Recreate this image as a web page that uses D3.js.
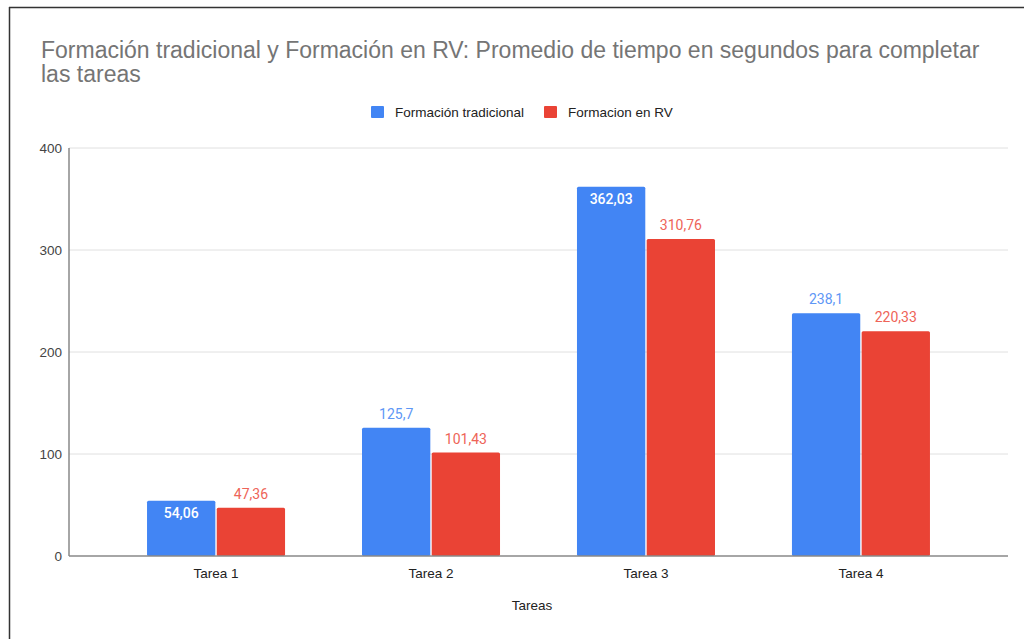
<!DOCTYPE html>
<html>
<head>
<meta charset="utf-8">
<script src="https://cdn.jsdelivr.net/npm/d3@7"></script>
<style>
  body { margin: 0; background: #fff; }
  svg { display: block; font-family: "Liberation Sans", Arial, sans-serif; }
</style>
</head>
<body>
<div id="chart"></div>
<script>
const categories = ['Tarea 1', 'Tarea 2', 'Tarea 3', 'Tarea 4'];
const seriesNames = ['Formación tradicional', 'Formacion en RV'];
const tradicional = [54.06, 125.7, 362.03, 238.1];
const rv = [47.36, 101.43, 310.76, 220.33];
const yTicks = [0, 100, 200, 300, 400];

const colors = ['#4285f4', '#ea4335'];
const labelColors = ['#5e97f6', '#ee6458'];
// labels Google drew inside the bar (series index, category index)
const insideLabels = ['0-0', '0-2'];

const width = 1024;
const height = 639;
const margin = { top: 148, right: 16, bottom: 83, left: 69 };

const svg = d3.select('#chart')
  .append('svg')
  .attr('width', width)
  .attr('height', height);

// frame edges seen in the screenshot
svg.append('line')
  .attr('x1', 9).attr('x2', width).attr('y1', 7.5).attr('y2', 7.5)
  .style('stroke', '#333').style('stroke-width', 1.5);
svg.append('line')
  .attr('x1', 9.5).attr('x2', 9.5).attr('y1', 7).attr('y2', height)
  .style('stroke', '#333').style('stroke-width', 1.5);

const x = d3.scaleBand()
  .domain(categories)
  .range([margin.left, width - margin.right])
  .paddingInner(0.358)
  .paddingOuter(0.363);

const xs = d3.scaleBand()
  .domain(d3.range(seriesNames.length))
  .range([0, x.bandwidth()])
  .paddingInner(0.02);

const y = d3.scaleLinear()
  .domain([0, 400])
  .range([height - margin.bottom, margin.top]);

// gridlines
svg.append('g')
  .selectAll('line')
  .data(yTicks.slice(1))
  .enter()
  .append('line')
  .attr('x1', margin.left)
  .attr('x2', width - margin.right)
  .attr('y1', (d) => y(d))
  .attr('y2', (d) => y(d))
  .style('stroke', '#e0e0e0')
  .style('stroke-width', 1);

// y tick labels
svg.append('g')
  .selectAll('text')
  .data(yTicks)
  .enter()
  .append('text')
  .attr('x', margin.left - 7)
  .attr('y', (d) => y(d) + 5)
  .attr('text-anchor', 'end')
  .style('font-size', '13.5px')
  .style('fill', '#444')
  .text((d) => d);

const rows = categories.map((c, i) => ({ cat: c, values: [tradicional[i], rv[i]] }));

const groups = svg.append('g')
  .selectAll('g')
  .data(rows)
  .enter()
  .append('g')
  .attr('transform', (d) => `translate(${x(d.cat)},0)`);

groups.selectAll('rect')
  .data((d) => d.values)
  .enter()
  .append('rect')
  .attr('x', (d, i) => xs(i))
  .attr('width', xs.bandwidth())
  .attr('y', (d) => y(d))
  .attr('height', (d) => y(0) - y(d))
  .attr('rx', 1.5)
  .style('fill', (d, i) => colors[i]);

groups.selectAll('text')
  .data((d, ci) => d.values.map((v, si) => ({ v, si, ci })))
  .enter()
  .append('text')
  .attr('x', (d) => xs(d.si) + xs.bandwidth() / 2)
  .attr('y', (d) => insideLabels.includes(d.si + '-' + d.ci) ? y(d.v) + 17 : y(d.v) - 9)
  .attr('text-anchor', 'middle')
  .style('font-family', 'Roboto, sans-serif')
  .style('font-size', '14px')
  .style('font-weight', (d) => insideLabels.includes(d.si + '-' + d.ci) ? 500 : 'normal')
  .style('fill', (d) => insideLabels.includes(d.si + '-' + d.ci) ? '#fff' : labelColors[d.si])
  .text((d) => String(d.v).replace('.', ','));

// axes lines
svg.append('line')
  .attr('x1', margin.left).attr('x2', width - margin.right)
  .attr('y1', y(0)).attr('y2', y(0))
  .style('stroke', '#888').style('stroke-width', 1.5);
svg.append('line')
  .attr('x1', margin.left).attr('x2', margin.left)
  .attr('y1', y(400)).attr('y2', y(0))
  .style('stroke', '#888').style('stroke-width', 1.5);

// x labels
svg.append('g')
  .selectAll('text')
  .data(categories)
  .enter()
  .append('text')
  .attr('x', (d) => x(d) + x.bandwidth() / 2)
  .attr('y', y(0) + 22)
  .attr('text-anchor', 'middle')
  .style('font-size', '13.5px')
  .style('fill', '#222')
  .text((d) => d);

svg.append('text')
  .attr('x', 532)
  .attr('y', 610)
  .attr('text-anchor', 'middle')
  .style('font-size', '13.5px')
  .style('fill', '#222')
  .text('Tareas');

// title
const title = svg.append('text')
  .attr('x', 41)
  .attr('y', 58)
  .style('font-size', '23px')
  .style('fill', '#757575');
title.append('tspan')
  .attr('x', 41)
  .text('Formación tradicional y Formación en RV: Promedio de tiempo en segundos para completar');
title.append('tspan')
  .attr('x', 41)
  .attr('dy', 24)
  .text('las tareas');

// legend
const legendX = [371, 544];
const legend = svg.append('g')
  .selectAll('g')
  .data(seriesNames)
  .enter()
  .append('g')
  .attr('transform', (d, i) => `translate(${legendX[i]},106)`);

legend.append('rect')
  .attr('width', 13)
  .attr('height', 12)
  .attr('rx', 1)
  .style('fill', (d, i) => colors[i]);

legend.append('text')
  .attr('x', 24)
  .attr('y', 11)
  .style('font-size', '13.5px')
  .style('fill', '#222')
  .text((d) => d);
</script>
</body>
</html>
